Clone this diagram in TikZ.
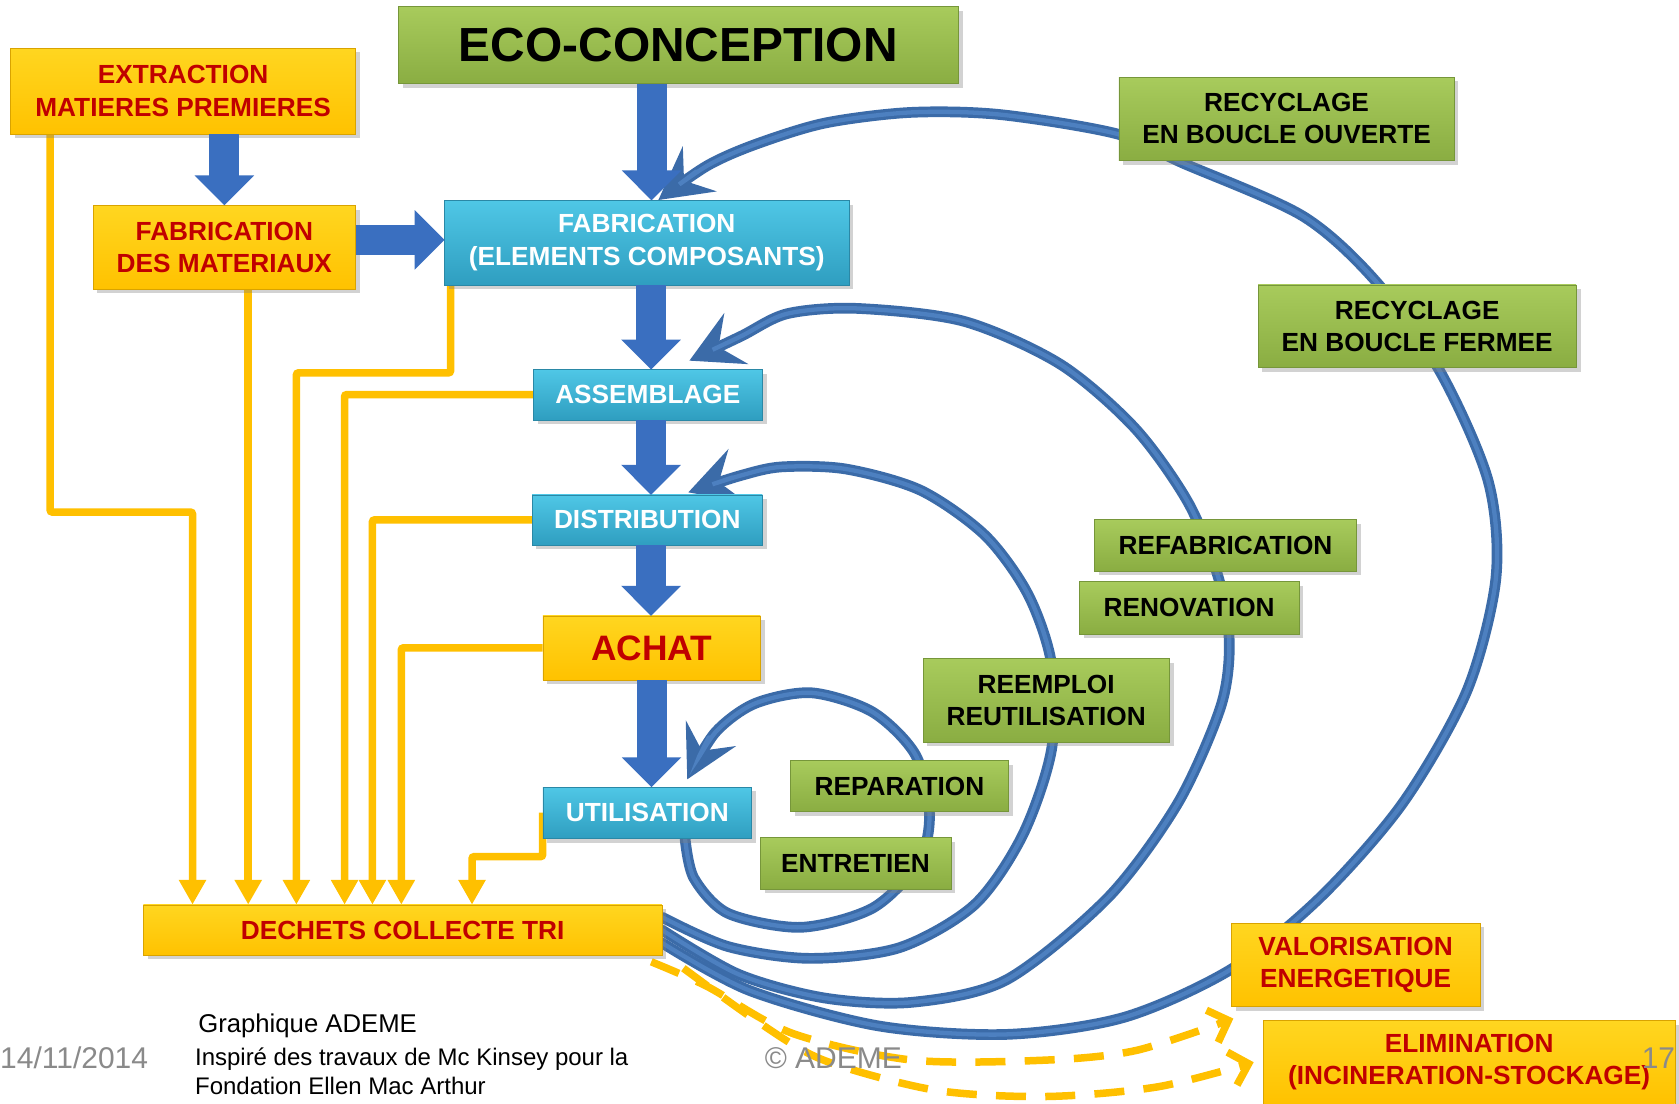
\documentclass[tikz,border=0pt]{standalone}
\usepackage{fontspec}
\setmainfont{Liberation Sans}
\usetikzlibrary{arrows.meta,shadows,backgrounds}
\definecolor{ecored}{HTML}{C00000}
\definecolor{yellowtop}{HTML}{FFD620}
\definecolor{yellowbot}{HTML}{FFC200}
\definecolor{yellowedge}{HTML}{D9A300}
\definecolor{greentop}{HTML}{A8CB5C}
\definecolor{greenbot}{HTML}{8AAD42}
\definecolor{greenedge}{HTML}{76963A}
\definecolor{cyantop}{HTML}{4FC7E6}
\definecolor{cyanbot}{HTML}{2F9EC0}
\definecolor{cyanedge}{HTML}{2A88A6}
\definecolor{arrowblue}{HTML}{3A6FC0}
\definecolor{tubeblue}{HTML}{3B6BA8}
\definecolor{tubelight}{HTML}{4D80C0}
\definecolor{wasteline}{HTML}{FFC000}
\definecolor{footgray}{HTML}{8A8A8A}

\begin{document}
\begin{tikzpicture}[x=1pt,y=-1pt,
  boxbase/.style={align=center,inner sep=0pt,font=\bfseries\fontsize{24.5}{30}\selectfont,
    drop shadow={shadow xshift=4pt,shadow yshift=-4pt,opacity=0.35}},
  yellowbox/.style={boxbase,draw=yellowedge,top color=yellowtop,bottom color=yellowbot,text=ecored},
  greenbox/.style={boxbase,draw=greenedge,top color=greentop,bottom color=greenbot,text=black},
  cyanbox/.style={boxbase,draw=cyanedge,top color=cyantop,bottom color=cyanbot,text=white},
  bigarrow/.style={draw=arrowblue,line width=28pt,-{Triangle[length=28pt,width=54pt]}},
  waste/.style={draw=wasteline,line width=7pt,rounded corners=2pt,-{Triangle[length=23pt,width=24pt]}},
  tube/.style={draw=tubeblue,line width=10pt,line cap=round,-{Stealth[length=48pt,width=52pt,inset=18pt]},
    postaction={draw=tubelight,line width=4pt,arrows=-,shorten >=44pt}},
  spill/.style={draw=wasteline,line width=7pt,dash pattern=on 28pt off 18pt,-{Straight Barb[length=16pt,width=32pt]}},
  footer/.style={inner sep=0pt,anchor=west,text=footgray,font=\fontsize{28}{32}\selectfont}]
\useasboundingbox (0,0) rectangle (1568,1031);

\node[greenbox,minimum width=523pt,minimum height=72pt,font=\bfseries\fontsize{44.7}{50}\selectfont] (eco) at (633.5,42) {ECO-CONCEPTION};
\node[yellowbox,minimum width=322pt,minimum height=80pt] (extr) at (171,85) {EXTRACTION\\MATIERES PREMIERES};
\node[yellowbox,minimum width=245pt,minimum height=78pt] (fabmat) at (209.5,231) {FABRICATION\\DES MATERIAUX};
\node[cyanbox,minimum width=378pt,minimum height=79pt] (fabel) at (604,226.5) {FABRICATION\\(ELEMENTS COMPOSANTS)};
\node[cyanbox,minimum width=214pt,minimum height=47pt] (assem) at (605,368.5) {ASSEMBLAGE};
\node[cyanbox,minimum width=215pt,minimum height=47pt] (distr) at (604.5,485.5) {DISTRIBUTION};
\node[yellowbox,minimum width=203pt,minimum height=60pt,font=\bfseries\fontsize{33}{38}\selectfont] (achat) at (608.5,605) {ACHAT};
\node[cyanbox,minimum width=195pt,minimum height=48pt] (util) at (604.5,759) {UTILISATION};
\node[yellowbox,minimum width=484pt,minimum height=47pt] (dechets) at (376,868.5) {DECHETS COLLECTE TRI};
\node[greenbox,minimum width=313pt,minimum height=78pt] (recouv) at (1201.5,111) {RECYCLAGE\\EN BOUCLE OUVERTE};
\node[greenbox,minimum width=297pt,minimum height=77pt] (recferm) at (1323.5,304.5) {RECYCLAGE\\EN BOUCLE FERMEE};
\node[greenbox,minimum width=245pt,minimum height=48pt] (refab) at (1144.5,509) {REFABRICATION};
\node[greenbox,minimum width=205pt,minimum height=49pt] (renov) at (1110.5,567.5) {RENOVATION};
\node[greenbox,minimum width=230pt,minimum height=78pt] (reemploi) at (977,654) {REEMPLOI\\REUTILISATION};
\node[greenbox,minimum width=204pt,minimum height=48pt] (repar) at (840,734) {REPARATION};
\node[greenbox,minimum width=178pt,minimum height=48pt] (entret) at (799,806) {ENTRETIEN};
\node[yellowbox,minimum width=232pt,minimum height=78pt] (valor) at (1266,901) {VALORISATION\\ENERGETIQUE};
\node[yellowbox,minimum width=384pt,minimum height=78pt] (elim) at (1372,992) {ELIMINATION\\(INCINERATION-STOCKAGE)};

\node[inner sep=0pt,anchor=west,font=\fontsize{24}{28}\selectfont] (graph) at (185,958) {Graphique ADEME};
\node[inner sep=0pt,anchor=north west,align=left,font=\fontsize{22.4}{27}\selectfont] (inspire) at (182,978) {Inspiré des travaux de Mc Kinsey pour la\\Fondation Ellen Mac Arthur};
\node[footer] (date) at (0,988) {14/11/2014};
\node[footer] (copy) at (714,988) {© ADEME};
\node[footer] (page) at (1533,988) {17};

\draw[bigarrow] (extr.south -| fabmat.north) -- (fabmat.north);
\draw[bigarrow] ([yshift=7pt]fabmat.east) -- ++(83,0);
\draw[bigarrow] ([xshift=-25pt]eco.south) -- ++(0,109);
\draw[bigarrow] ([xshift=4pt]fabel.south) -- ++(0,79);
\draw[bigarrow] ([xshift=3pt]assem.south) -- ++(0,70);
\draw[bigarrow] ([xshift=3.5pt]distr.south) -- ++(0,66);
\draw[bigarrow] (achat.south) -- ++(0,100);

\begin{scope}[on background layer]
\fill[white] (0,0) rectangle (1568,1031);
\draw[waste] ([xshift=37pt]extr.south west) -- ++(0,353) -| ([xshift=46pt]dechets.north west);
\draw[waste] ([xshift=145pt]fabmat.south west) -- ([xshift=98pt]dechets.north west);
\draw[waste] ([xshift=6pt]fabel.south west) -- ++(0,82) -| ([xshift=143pt]dechets.north west);
\draw[waste] (assem.west) -| ([xshift=188pt]dechets.north west);
\draw[waste] (distr.west) -| ([xshift=214pt]dechets.north west);
\draw[waste] (achat.west) -| ([xshift=241pt]dechets.north west);
\draw[waste] (util.west) -- ++(0,41) -| ([xshift=307pt]dechets.north west);

\draw[spill] plot[smooth] coordinates {([xshift=-10pt,yshift=-6pt]dechets.south east) (660,921) (740,965) (852,990) (977,990) (1061,981) ([xshift=2pt,yshift=-11pt]valor.south west)};
\draw[spill] plot[smooth] coordinates {([xshift=20pt,yshift=-12pt]dechets.south east) (706,953) (769,990) (873,1018) (977,1024) (1081,1015) ([xshift=-9pt]elim.west)};

\draw[tube] plot[smooth] coordinates {([xshift=133pt]util.south west) (648,820) (680,853) (748,866) (815,848) (858,805) (868,760) (855,705) (815,665) (758,647) (705,657) (668,684) ([xshift=135pt,yshift=7pt]util.north west)};
\draw[tube] plot[smooth] coordinates {([yshift=12pt]dechets.east) (680,884) (756,895) (840,885) (910,845) (955,780) (982,700) (982,620) (960,555) (920,500) (860,458) (790,438) (730,436) (692,444) ([xshift=146pt,yshift=2pt]distr.north west)};
\draw[tube] plot[smooth] coordinates {(dechets.east) (690,910) (770,932) (852,936) (940,915) (1035,838) (1100,750) (1140,660) (1148,600) (1138,540) (1110,470) (1060,400) (990,340) (900,300) (800,288) (735,293) (692,314) ([xshift=146pt,yshift=8pt]assem.north west)};
\draw[tube] plot[smooth] coordinates {([yshift=-12pt]dechets.east) (700,925) (820,958) (940,966) (1050,950) (1150,905) (1233,838) (1310,750) (1370,645) (1397,540) (1390,450) (1346,349) (1286,264) (1217,202) (1104,152) (1043,125) (934,107) (850,105) (770,115) (705,135) (660,155) ([xshift=200pt]fabel.north west)};
\end{scope}
\end{tikzpicture}
\end{document}
